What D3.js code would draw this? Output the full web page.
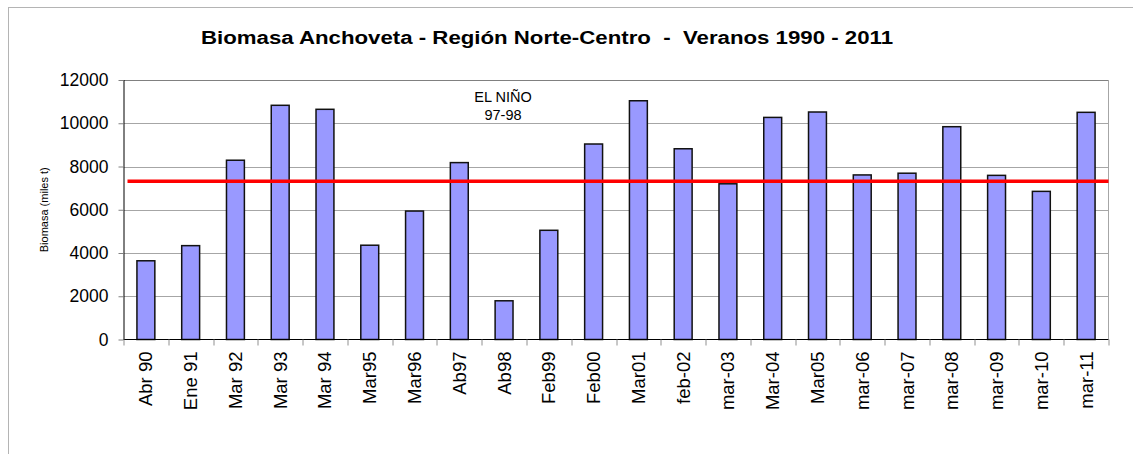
<!DOCTYPE html>
<html>
<head>
<meta charset="utf-8">
<script src="https://cdn.jsdelivr.net/npm/d3@7"></script>
<style>
  body { margin: 0; background: #fff; }
  svg text { font-family: "Liberation Sans", Arial, sans-serif; fill: #000; }
</style>
</head>
<body>
<figure style="margin:0"></figure>
<script>
// data
const categories = ["Abr 90", "Ene 91", "Mar 92", "Mar 93", "Mar 94", "Mar95", "Mar96", "Ab97", "Ab98", "Feb99", "Feb00",
                    "Mar01", "feb-02", "mar-03", "Mar-04", "Mar05", "mar-06", "mar-07", "mar-08", "mar-09", "mar-10", "mar-11"]
const biomasa = [3640, 4340, 8290, 10830, 10645, 4360, 5940, 8180, 1790, 5050, 9040,
                 11040, 8820, 7200, 10270, 10520, 7610, 7690, 9840, 7590, 6850, 10505]
const promedio = 7320
const yTicks = [0, 2000, 4000, 6000, 8000, 10000, 12000]

const W = 1133, H = 454
const margin = {top: 80, right: 24.5, bottom: 114.5, left: 123.5}
const width = W - margin.left - margin.right,
      height = H - margin.top - margin.bottom

const svg = d3.select("figure").append("svg").attr("width", W).attr("height", H)

// outer chart border
svg.append("rect")
    .attr("x", 8.5).attr("y", 7.5)
    .attr("width", W + 20).attr("height", H + 20)
    .attr("fill", "none").attr("stroke", "#b4b4b4")

svg.append("text")
    .attr("x", 547).attr("y", 44)
    .attr("text-anchor", "middle")
    .attr("font-size", 18).attr("font-weight", "bold")
    .style("white-space", "pre")
    .attr("textLength", 692).attr("lengthAdjust", "spacingAndGlyphs")
    .text("Biomasa Anchoveta - Región Norte-Centro  -  Veranos 1990 - 2011")

const g = svg.append("g").attr("transform", `translate(${margin.left},${margin.top})`)

const x = d3.scaleBand().domain(categories).range([0, width]).padding(0)
const y = d3.scaleLinear().domain([0, 12000]).range([height, 0])

// gridlines
g.append("g").selectAll("line").data(yTicks.slice(1)).join("line")
    .attr("x1", 0).attr("x2", width)
    .attr("y1", d => Math.round(y(d)) + 0.5).attr("y2", d => Math.round(y(d)) + 0.5)
    .attr("stroke", d => d === 12000 ? "#808080" : "#a6a6a6")

// right border of plot area
g.append("line")
    .attr("x1", width).attr("x2", width).attr("y1", y(12000)).attr("y2", y(0))
    .attr("stroke", "#a6a6a6")

// bars
const bw = x.bandwidth() / 2.5
g.append("g").selectAll("rect").data(biomasa).join("rect")
    .attr("x", (d, i) => x(categories[i]) + (x.bandwidth() - bw) / 2)
    .attr("y", d => y(d))
    .attr("width", bw)
    .attr("height", d => y(0) - y(d))
    .attr("fill", "#9999ff")
    .attr("stroke", "#111")
    .attr("stroke-width", 1.5)

// average line
g.append("line")
    .attr("x1", 4).attr("x2", width)
    .attr("y1", y(promedio)).attr("y2", y(promedio))
    .attr("stroke", "#ff0000").attr("stroke-width", 3.5)

// y axis
const yAxis = g.append("g")
    .call(d3.axisLeft(y).tickValues(yTicks).tickSize(5).tickPadding(10).tickFormat(d3.format("d")))
yAxis.select(".domain").attr("stroke", "#000").attr("d", `M0.5,0V${height}`)
yAxis.selectAll(".tick line").attr("stroke", "#808080")
yAxis.selectAll(".tick text").attr("font-size", 17.5).attr("font-family", "Liberation Sans, Arial, sans-serif")

// x axis
const xAxis = g.append("g").attr("transform", `translate(0,${height})`)
xAxis.append("line").attr("x1", 0).attr("x2", width).attr("y1", 0).attr("y2", 0).attr("stroke", "#000")
xAxis.selectAll("line.tk").data(d3.range(categories.length + 1)).join("line")
    .attr("class", "tk")
    .attr("x1", i => Math.round(x.step() * i) + 0.5).attr("x2", i => Math.round(x.step() * i) + 0.5)
    .attr("y1", 0).attr("y2", 6)
    .attr("stroke", "#909090")
xAxis.selectAll("text").data(categories).join("text")
    .attr("transform", d => `translate(${x(d) + x.bandwidth() / 2 + 6.5},12) rotate(-90)`)
    .attr("text-anchor", "end")
    .attr("font-size", 18.5)
    .text(d => d)

// y label
svg.append("text")
    .attr("transform", `translate(48,${margin.top + height / 2}) rotate(-90)`)
    .attr("text-anchor", "middle")
    .attr("font-size", 11)
    .text("Biomasa (miles t)")

// annotation
const ann = svg.append("text").attr("text-anchor", "middle").attr("font-size", 14.5)
ann.append("tspan").attr("x", 503).attr("y", 102).text("EL NIÑO")
ann.append("tspan").attr("x", 503).attr("y", 120).text("97-98")
</script>
</body>
</html>
